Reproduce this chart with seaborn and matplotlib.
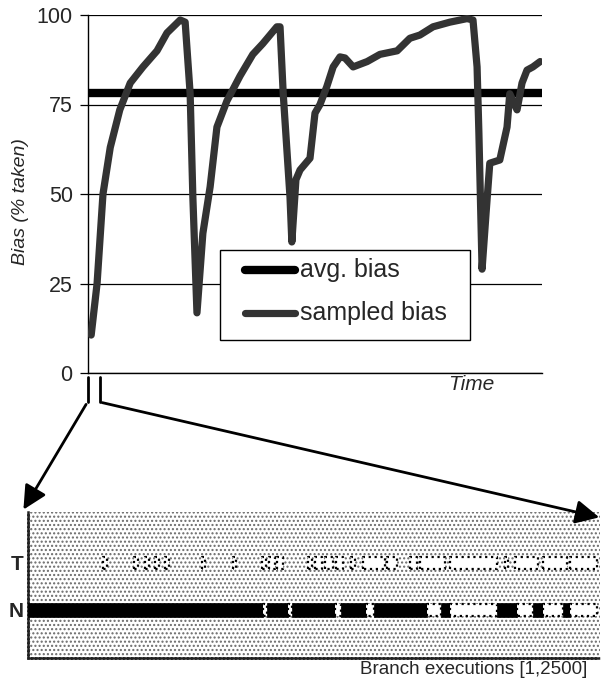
import matplotlib
matplotlib.use("Agg")
import numpy as np
import pandas as pd
import seaborn as sns
import matplotlib.pyplot as plt
from matplotlib.lines import Line2D
from matplotlib.patches import FancyArrowPatch, Rectangle

# ---------------- data ----------------
time = [0.7, 2.0, 3.3, 4.9, 7.0, 9.3, 12.1, 15.2, 17.4, 20.3, 21.4, 22.5, 23.1,
        24.0, 25.3, 26.9, 28.4, 30.6, 33.5, 36.3, 38.5, 41.6, 42.3, 43.0, 44.5,
        44.9, 45.8, 46.7, 48.9, 50.0, 51.1, 52.6, 54.0, 55.5, 56.6, 58.4, 61.5,
        64.3, 68.1, 70.9, 73.1, 76.0, 79.7, 83.5, 84.8, 85.7, 86.1, 86.8, 87.7,
        88.5, 90.7, 92.3, 92.9, 94.5, 95.6, 96.7, 98.0, 99.6]
sampled_bias = [10.6, 25, 50, 63, 73.5, 81, 85.5, 90, 95, 98.6, 98, 78, 49,
                16.8, 39, 52, 68.7, 76, 83, 89, 92, 96.7, 96.7, 78, 49,
                36.6, 54, 56.7, 60, 72.6, 75, 80, 85.5, 88.3, 88, 85.5, 87,
                89, 90, 93.5, 94.4, 96.7, 98, 99, 98.6, 85.5, 67, 29, 45,
                58.6, 59.5, 68.7, 78, 73.5, 81, 84.6, 85.5, 87]
avg_time = [0, 100]
avg_bias = [78.2, 78.2]
y_ticks = [0, 25, 50, 75, 100]
legend_labels = ["avg. bias", "sampled bias"]

# branch outcome strip (execution index 0..2500)
n_executions = 2500
not_taken_runs = [(0, 1027), (1044, 1136), (1154, 1342), (1368, 1477),
                  (1512, 1744), (1805, 1844), (2050, 2137), (2207, 2251),
                  (2338, 2369)]
taken_gaps_n_row = [(1027, 1044), (1136, 1154), (1342, 1368), (1477, 1512),
                    (1744, 1805), (1844, 2050), (2137, 2207), (2251, 2338),
                    (2369, 2487)]
taken_marks = [(328, 345), (463, 481), (511, 529), (555, 572), (599, 616),
               (760, 773), (896, 909), (1023, 1040), (1053, 1079),
               (1088, 1114), (1224, 1241), (1254, 1285), (1298, 1333),
               (1346, 1377), (1412, 1429), (1464, 1560), (1569, 1613),
               (1669, 1700), (1713, 1822), (1844, 2050), (2084, 2098),
               (2128, 2229), (2251, 2355), (2369, 2487)]
row_labels = ["N", "T"]

# ---------------- style ----------------
sns.set_theme(style="white")
plt.rcParams["font.family"] = ["Liberation Sans", "DejaVu Sans"]

W, H = 606, 679
fig = plt.figure(figsize=(W / 100, H / 100), dpi=100)


def fx(px):
    return px / W


def fy(py):
    return 1 - py / H


AVG_C = "black"
SMP_C = "#333333"

# ---------------- top chart ----------------
ax = fig.add_axes([fx(88), fy(373), 454 / W, 358 / H])
df = pd.DataFrame({"Time": time, "Bias": sampled_bias})
dfa = pd.DataFrame({"Time": avg_time, "Bias": avg_bias})

sns.lineplot(data=dfa, x="Time", y="Bias", ax=ax, color=AVG_C, lw=6,
             estimator=None, sort=False, zorder=3)
sns.lineplot(data=df, x="Time", y="Bias", ax=ax, color=SMP_C, lw=5.2,
             estimator=None, sort=False, zorder=4, solid_capstyle="round",
             solid_joinstyle="round")

ax.set_xlim(0, 100)
ax.set_ylim(0, 100)
ax.set_yticks(y_ticks)
ax.set_xticks([])
ax.grid(axis="y", color="black", lw=0.9)
ax.grid(axis="x", visible=False)
ax.set_axisbelow(True)
for s in ["top", "right"]:
    ax.spines[s].set_visible(False)
for s in ["left", "bottom"]:
    ax.spines[s].set_color("black")
    ax.spines[s].set_linewidth(1.0)
ax.tick_params(axis="y", direction="out", length=6, width=0.9, color="black",
               labelsize=15.5, pad=5, left=True)
ax.set_xlabel("")
ax.set_ylabel("Bias (% taken)", fontsize=14, style="italic")
ax.yaxis.set_label_coords((29 - 88) / 454, 0.478)
if ax.get_legend() is not None:
    ax.get_legend().remove()


# legend box (drawn in axes coordinates)
def axx(px):
    return (px - 88) / 454


def axy(py):
    return (373 - py) / 358


ax.add_patch(Rectangle((axx(220), axy(340)), axx(470) - axx(220),
                       axy(250) - axy(340), transform=ax.transAxes,
                       facecolor="white", edgecolor="black", lw=1.0, zorder=5))
for py, col, lw, lab in [(270, AVG_C, 6, legend_labels[0]),
                         (313, SMP_C, 5.2, legend_labels[1])]:
    ax.add_line(Line2D([axx(245), axx(295)], [axy(py), axy(py)],
                       transform=ax.transAxes, color=col, lw=lw,
                       solid_capstyle="round", zorder=6))
    ax.text(axx(300), axy(py), lab, transform=ax.transAxes, fontsize=18,
            ha="left", va="center", zorder=6)

fig.text(fx(471), fy(385), "Time", fontsize=15, style="italic",
         ha="center", va="center")

# ---------------- bracket + arrows ----------------
for xb in (87.5, 99.5):
    fig.add_artist(Line2D([fx(xb), fx(xb)], [fy(377), fy(402)],
                          color="black", lw=2, transform=fig.transFigure))
fig.add_artist(FancyArrowPatch((fx(87.5), fy(402)), (fx(22), fy(512)),
                               transform=fig.transFigure, arrowstyle="-|>",
                               mutation_scale=36, lw=2, color="black"))
fig.add_artist(FancyArrowPatch((fx(99.5), fy(402)), (fx(602), fy(518)),
                               transform=fig.transFigure, arrowstyle="-|>",
                               mutation_scale=36, lw=2, color="black"))

# ---------------- bottom strip ----------------
bx = fig.add_axes([fx(28), fy(658), 572 / W, 146 / H])
bx.set_xlim(0, n_executions)
bx.set_ylim(-1.02, 2.08)
bx.patch.set_facecolor("white")
bx.add_patch(Rectangle((0, 0), 1, 1, transform=bx.transAxes, facecolor="white",
                       edgecolor="#6a6a6a", hatch="....", lw=0, zorder=0))
bx.broken_barh([(a, b - a) for a, b in not_taken_runs], (-0.15, 0.30),
               facecolors="black", edgecolor="black", lw=0.5, zorder=3)
bx.broken_barh([(a, b - a) for a, b in taken_gaps_n_row], (-0.13, 0.26),
               facecolors="white", edgecolor="black", lw=1.6,
               linestyle=":", zorder=3)
bx.broken_barh([(a, b - a) for a, b in taken_marks], (0.88, 0.24),
               facecolors="white", edgecolor="black", lw=1.6,
               linestyle=":", zorder=3)
bx.set_yticks([0, 1])
bx.set_yticklabels(row_labels, fontsize=15, fontweight="bold")
bx.tick_params(axis="y", length=0, pad=3)
bx.set_xticks([])
for s in ["top", "right"]:
    bx.spines[s].set_visible(False)
for s in ["left", "bottom"]:
    bx.spines[s].set_color("#222222")
    bx.spines[s].set_linewidth(1.8)
    bx.spines[s].set_linestyle((0, (1, 0.6)))

fig.text(fx(587), fy(674), "Branch executions [1,2500]", fontsize=13.5,
         ha="right", va="baseline")

fig.savefig("out.png", dpi=100)
